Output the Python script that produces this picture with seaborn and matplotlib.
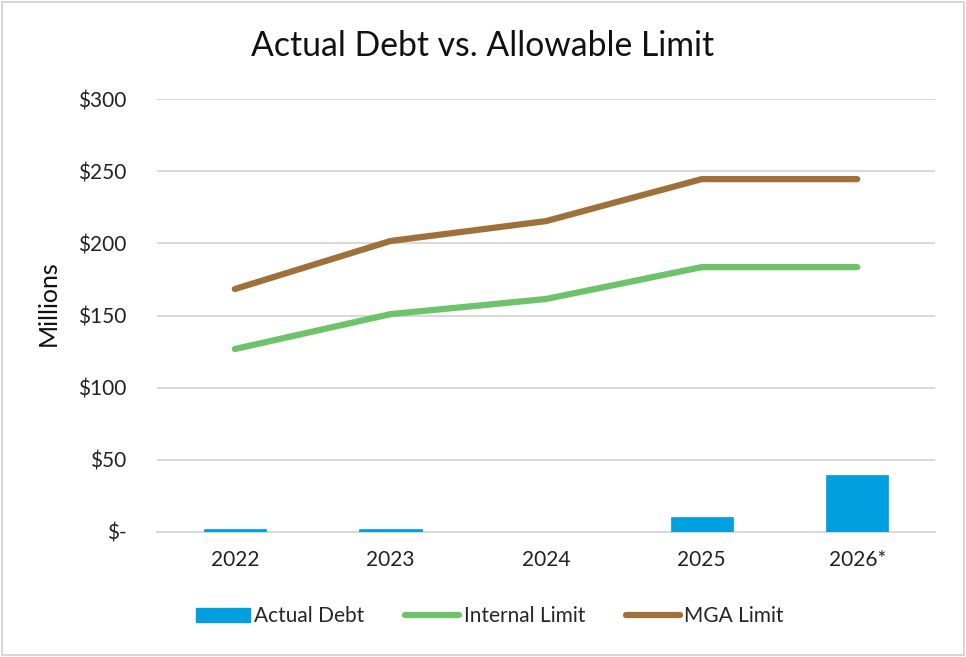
import numpy as np
import pandas as pd
import matplotlib
matplotlib.use("Agg")
import matplotlib.pyplot as plt
from matplotlib.patches import Rectangle
from matplotlib.lines import Line2D
from matplotlib.patches import Patch
import seaborn as sns

years = ["2022", "2023", "2024", "2025", "2026*"]
actual_debt = [1.8, 1.8, 0.0, 10.4, 39.5]
internal_limit = [126.8, 151.0, 161.5, 183.6, 183.6]
mga_limit = [168.4, 201.7, 215.5, 244.6, 244.6]
y_ticks = [0, 50, 100, 150, 200, 250, 300]
y_tick_labels = ["$-", "$50", "$100", "$150", "$200", "$250", "$300"]

sns.set_theme(style="white")
plt.rcParams['font.family'] = ['Lato', 'DejaVu Sans']

bar_color = "#009FDF"
green = "#6CC36A"
brown = "#A0703A"

fig = plt.figure(figsize=(9.66, 6.57), dpi=100)
ax = fig.add_axes([0.1625, 0.1903, 0.968 - 0.1625, 0.849 - 0.1903])

df = pd.DataFrame({"year": years, "debt": actual_debt})
sns.barplot(data=df, x="year", y="debt", color=bar_color, width=0.4,
            saturation=1, ax=ax, zorder=5, edgecolor=bar_color, linewidth=0.5)

pos = np.arange(len(years))
sns.lineplot(x=pos, y=internal_limit, color=green, linewidth=4.5, ax=ax,
             zorder=4, solid_capstyle="round")
sns.lineplot(x=pos, y=mga_limit, color=brown, linewidth=4.5, ax=ax,
             zorder=4, solid_capstyle="round")

ax.set_xlim(-0.5, len(years) - 0.5)
ax.set_ylim(0, 300)
ax.set_yticks(y_ticks)
ax.set_yticklabels(y_tick_labels, fontsize=15, color="#222222")
ax.set_xticks(pos)
ax.set_xticklabels(years, fontsize=15, color="#222222")
ax.tick_params(axis="x", length=0, pad=13)
ax.tick_params(axis="y", length=0, pad=22)
ax.set_xlabel("")
ax.set_ylabel("Millions", fontsize=18, color="#111111")
ax.yaxis.set_label_coords(-0.125, 0.529)
ax.yaxis.grid(True, color="#D9D9D9", linewidth=1.5, zorder=0)
ax.set_axisbelow(True)
for s in ["top", "right", "left"]:
    ax.spines[s].set_visible(False)
ax.spines["bottom"].set_color("#D9D9D9")
ax.spines["bottom"].set_linewidth(1.5)
ax.spines["bottom"].set_zorder(1)

fig.text(0.5, 0.93, "Actual Debt vs. Allowable Limit", ha="center", va="center",
         fontsize=24.3, color="#111111")

handles = [Patch(facecolor=bar_color, edgecolor=bar_color),
           Line2D([0], [0], color=green, linewidth=4.5, solid_capstyle="round"),
           Line2D([0], [0], color=brown, linewidth=4.5, solid_capstyle="round")]
fig.legend(handles, ["Actual Debt", "Internal Limit", "MGA Limit"],
           loc="center", bbox_to_anchor=(0.507, 0.062), ncol=3, frameon=False,
           fontsize=15, handlelength=2.6, handleheight=0.7, columnspacing=1.95,
           handletextpad=0.2)

fig.patches.append(Rectangle((0.002, 0.003), 0.996, 0.994, transform=fig.transFigure,
                             fill=False, edgecolor="#D0D0D0", linewidth=1.2))

fig.savefig("out.png", dpi=100, facecolor="white")
